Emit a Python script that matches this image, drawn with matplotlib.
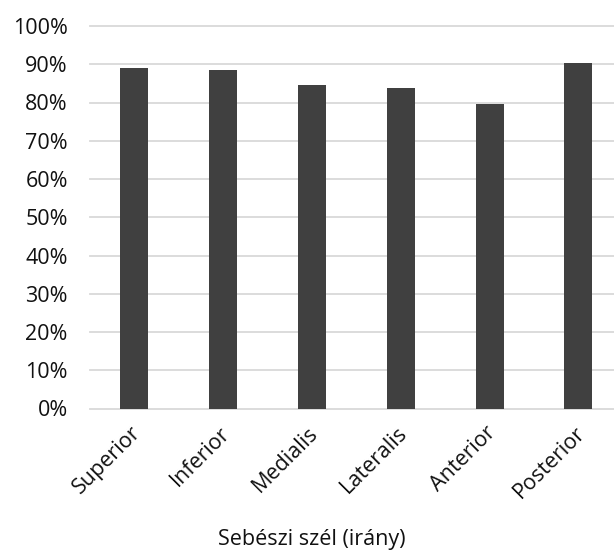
import matplotlib.pyplot as plt
import matplotlib.transforms as mtransforms
from matplotlib.ticker import PercentFormatter

categories = ['Superior', 'Inferior', 'Medialis', 'Lateralis', 'Anterior', 'Posterior']
values = [0.891, 0.886, 0.845, 0.839, 0.796, 0.902]
yticks = [0.0, 0.1, 0.2, 0.3, 0.4, 0.5, 0.6, 0.7, 0.8, 0.9, 1.0]

plt.rcParams['font.family'] = ['Open Sans', 'DejaVu Sans']

fig = plt.figure(figsize=(6.14, 5.54), dpi=100)
# axes runs a little past the right edge, like the cropped original
ax = fig.add_axes([90 / 614, 145.5 / 554, 532.8 / 614, 382.5 / 554])

x = range(len(categories))
ax.bar(x, values, width=0.316, color='#404040', zorder=3)

ax.set_xlim(-0.5, 5.5)
ax.set_ylim(0, 1.0)
ax.set_yticks(yticks)
ax.yaxis.set_major_formatter(PercentFormatter(1.0, decimals=0))
ax.grid(axis='y', color='#d9d9d9', lw=1.3, zorder=0, clip_on=False)
for s in ax.spines.values():
    s.set_visible(False)
ax.tick_params(axis='both', length=0, labelsize=15.5, colors='#111111')
ax.tick_params(axis='y', pad=16)
ax.set_xticks(list(x))
ax.set_xticklabels(categories, rotation=45, ha='right', rotation_mode='anchor')
ax.tick_params(axis='x', pad=10)

# nudge rotated labels a few pixels left
shift = mtransforms.ScaledTranslation(-4 / 100, 0, fig.dpi_scale_trans)
for lab in ax.get_xticklabels():
    lab.set_transform(lab.get_transform() + shift)

fig.text(312 / 614, 1 - 540 / 554, 'Sebészi szél (irány)', ha='center', va='center',
         fontsize=15.5, color='#111111')

fig.savefig('out.png', dpi=100)
